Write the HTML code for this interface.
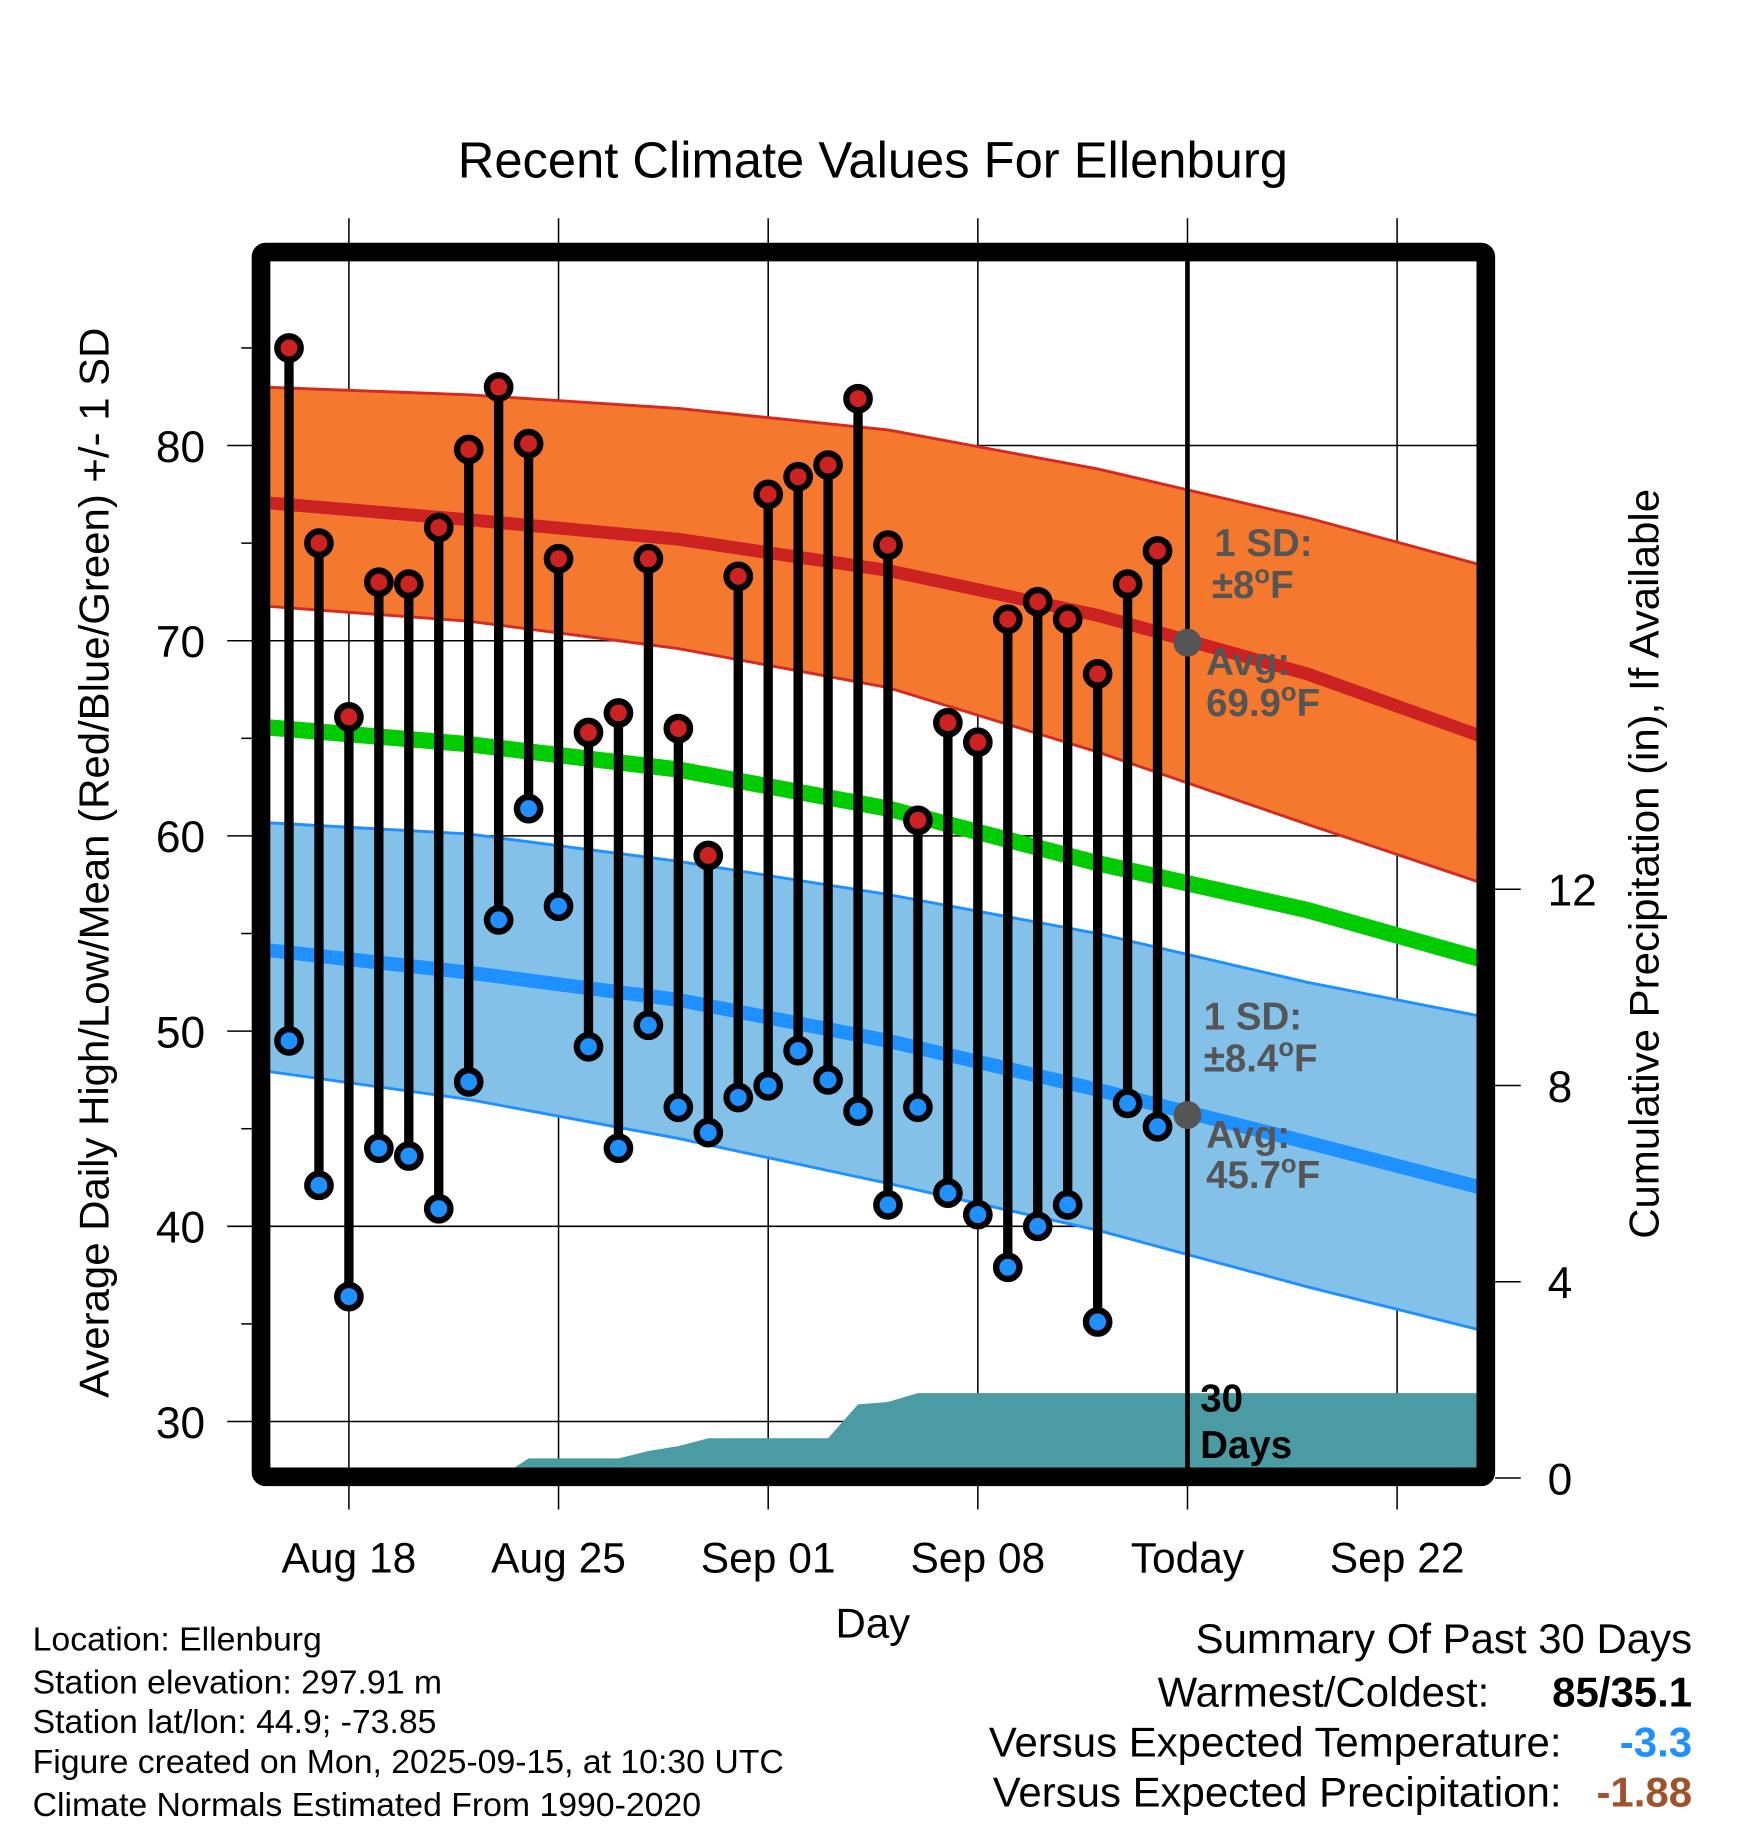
<!DOCTYPE html>
<html><head><meta charset="utf-8"><style>
html,body{margin:0;padding:0;background:#fff}
svg{display:block;font-family:"Liberation Sans",Arial,sans-serif}
</style></head><body>
<svg id="chart" width="1748" height="1828" viewBox="0 0 1500 1568" xmlns="http://www.w3.org/2000/svg">
<defs><clipPath id="plotclip"><rect x="232" y="224" width="1035" height="1035"/></clipPath></defs>
<text x="749" y="152" font-size="43.5" text-anchor="middle">Recent Climate Values For Ellenburg</text>
<g id="grid"></g>
<g id="plot" clip-path="url(#plotclip)"></g>
<g id="marks"></g>
<rect x="224" y="216" width="1051" height="1051" fill="none" stroke="#000" stroke-width="16" rx="4"/>
<g id="axes"></g>
<text transform="translate(93,740) rotate(-90)" font-size="36" text-anchor="middle">Average Daily High/Low/Mean (Red/Blue/Green) +/- 1 SD</text>
<text transform="translate(1423,741) rotate(-90)" font-size="36" text-anchor="middle">Cumulative Precipitation (in), If Available</text>
<text x="749" y="1405" font-size="36" text-anchor="middle">Day</text>
<g font-size="33" font-weight="bold" fill="#555">
<text x="1042" y="477">1 SD:</text>
<text x="1040" y="513">±8<tspan font-size="22" dy="-13">o</tspan><tspan dy="13">F</tspan></text>
<text x="1035" y="579">Avg:</text>
<text x="1035" y="614">69.9<tspan font-size="22" dy="-13">o</tspan><tspan dy="13">F</tspan></text>
<text x="1033" y="883">1 SD:</text>
<text x="1033" y="919">±8.4<tspan font-size="22" dy="-13">o</tspan><tspan dy="13">F</tspan></text>
<text x="1035" y="985">Avg:</text>
<text x="1035" y="1019">45.7<tspan font-size="22" dy="-13">o</tspan><tspan dy="13">F</tspan></text>
</g>
<text font-size="33" font-weight="bold" x="1030" y="1211">30</text>
<text font-size="33" font-weight="bold" x="1030" y="1251">Days</text>
<g font-size="29">
<text x="28" y="1416">Location: Ellenburg</text>
<text x="28" y="1453">Station elevation: 297.91 m</text>
<text x="28" y="1487">Station lat/lon: 44.9; -73.85</text>
<text x="28" y="1521">Figure created on Mon, 2025-09-15, at 10:30 UTC</text>
<text x="28" y="1558">Climate Normals Estimated From 1990-2020</text>
</g>
<g font-size="36">
<text x="1452" y="1418" text-anchor="end">Summary Of Past 30 Days</text>
<text x="1278" y="1464" text-anchor="end">Warmest/Coldest:</text>
<text x="1452" y="1464" text-anchor="end" font-weight="bold">85/35.1</text>
<text x="1340" y="1507" text-anchor="end">Versus Expected Temperature:</text>
<text x="1452" y="1507" text-anchor="end" font-weight="bold" fill="#1e90ff">-3.3</text>
<text x="1340" y="1550" text-anchor="end">Versus Expected Precipitation:</text>
<text x="1452" y="1550" text-anchor="end" font-weight="bold" fill="#a0522d">-1.88</text>
</g>
</svg>
<script>
const highs=[85,75,66.1,73,72.9,75.8,79.8,83,80.1,74.2,65.3,66.3,74.2,65.5,59,73.3,77.5,78.4,79,82.4,74.9,60.8,65.8,64.8,71.1,72,71.1,68.3,72.9,74.6];
const lows=[49.5,42.1,36.4,44,43.6,40.9,47.4,55.7,61.4,56.4,49.2,44,50.3,46.1,44.8,46.6,47.2,49,47.5,45.9,41.1,46.1,41.7,40.6,37.9,40,41.1,35.1,46.3,45.1];
const precip=[0,0,0,0,0,0,0,0,0.4,0.4,0.4,0.4,0.55,0.65,0.81,0.81,0.81,0.81,0.81,1.5,1.55,1.73,1.73,1.73,1.73,1.73,1.73,1.73,1.73,1.73];
const normDays=[-1,6,13,20,27,34,40];
const highAvg=[77.1,76.2,75.2,73.6,71.3,68.3,65.0];
const highUp=[83.0,82.6,81.9,80.8,78.8,76.3,73.8];
const highDn=[71.8,71.0,69.6,67.6,64.3,60.6,57.5];
const meanAvg=[65.6,64.7,63.4,61.4,58.6,56.2,53.6];
const lowAvg=[54.2,53.0,51.6,49.5,47.0,44.3,41.9];
const lowUp=[60.7,60.1,58.7,57.0,55.0,52.5,50.7];
const lowDn=[48.0,46.5,44.5,42.2,39.8,36.9,34.6];
const xTickDays=[2,9,16,23,30,37];
const xTickLabels=["Aug 18","Aug 25","Sep 01","Sep 08","Today","Sep 22"];
const yTicks=[30,40,50,60,70,80];
const y2Ticks=[0,4,8,12];
const todayDay=30, todayHigh=69.9, todayLow=45.7;

const NS="http://www.w3.org/2000/svg";
const X=d=>248+d*25.7;
const Y=v=>382+(80-v)*16.75;
const Y2=p=>1268-p*42.1;
function mk(parent,tag,attrs){const e=document.createElementNS(NS,tag);for(const k in attrs)e.setAttribute(k,attrs[k]);parent.appendChild(e);return e;}
const grid=document.getElementById('grid'),plot=document.getElementById('plot'),marks=document.getElementById('marks'),axes=document.getElementById('axes');

xTickDays.forEach((d,i)=>{
  const g=mk(grid,'line',{x1:X(d),x2:X(d),y1:187,y2:1295,stroke:'#000','stroke-width':1.3});
  
  
  const t=mk(axes,'text',{x:X(d),y:1349,'font-size':36.5,'text-anchor':'middle'});
  t.textContent=xTickLabels[i];
  
  
});
yTicks.forEach(v=>{
  const g=mk(grid,'line',{x1:195,x2:1267,y1:Y(v),y2:Y(v),stroke:'#000','stroke-width':1.3});
  
  
  const t=mk(axes,'text',{x:176,y:Y(v)+14,'font-size':38,'text-anchor':'end'});
  t.textContent=v;
  
  
  const m=mk(grid,'line',{x1:207,x2:216,y1:Y(v+5),y2:Y(v+5),stroke:'#000','stroke-width':1.3});
  
  
});
y2Ticks.forEach(p=>{
  const m=mk(axes,'line',{x1:1283,x2:1305,y1:Y2(p),y2:Y2(p),stroke:'#000','stroke-width':1.3});
  
  
  const t=mk(axes,'text',{x:1328,y:Y2(p)+14,'font-size':38});
  t.textContent=p;
  
  
});

function pts(arr){return normDays.map((d,i)=>X(d)+','+Y(arr[i]));}
function band(up,dn,fill,edge,name){
  const p=mk(plot,'polygon',{points:pts(up).concat(pts(dn).reverse()).join(' '),fill:fill});
  
  
  [up,dn].forEach(a=>{const l=mk(plot,'polyline',{points:pts(a).join(' '),fill:'none',stroke:edge,'stroke-width':2.5});
    
    });
}
function line(arr,color,w,name){
  const l=mk(plot,'polyline',{points:pts(arr).join(' '),fill:'none',stroke:color,'stroke-width':w});
  
  
}
band(highUp,highDn,'#f4792e','#d42a22','high-sd-band');
band(lowUp,lowDn,'#84c1e8','#1e90ff','low-sd-band');
line(highAvg,'#cc2222',11,'high-avg-line');
line(meanAvg,'#00cc00',14,'mean-line');
line(lowAvg,'#1e90ff',12,'low-avg-line');

let pp=[X(0)+','+Y2(0)];
precip.forEach((p,i)=>pp.push(X(i)+','+Y2(p)));
pp.push('1270,'+Y2(precip[precip.length-1]));
pp.push('1270,'+Y2(0));
const pa=mk(plot,'polygon',{points:pp.join(' '),fill:'#4a9ba3'});



const tl=mk(plot,'line',{x1:X(todayDay),x2:X(todayDay),y1:224,y2:1260,stroke:'#000','stroke-width':4});


[todayHigh,todayLow].forEach(v=>{
  const c=mk(plot,'circle',{cx:X(todayDay),cy:Y(v),r:12,fill:'#555'});
  
  
});

highs.forEach((h,i)=>{
  const s=mk(marks,'line',{x1:X(i),x2:X(i),y1:Y(h),y2:Y(lows[i]),stroke:'#000','stroke-width':8});
  
  
});
highs.forEach((h,i)=>{
  [[h,'#cc2222','high-dot'],[lows[i],'#1e90ff','low-dot']].forEach(([v,c,n])=>{
    const o=mk(marks,'circle',{cx:X(i),cy:Y(v),r:10,fill:c,stroke:'#000','stroke-width':5.5});
    
    
  });
});
</script>
</body></html>
